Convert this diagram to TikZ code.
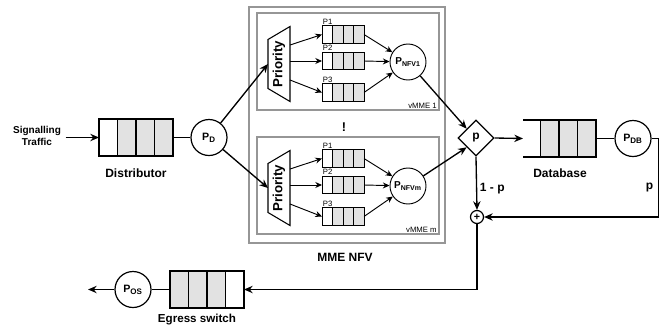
\documentclass[tikz,border=0pt]{standalone}
\usepackage{fontspec}
\setmainfont{Liberation Sans}
\usepackage{tikz}
\usetikzlibrary{shapes.geometric, arrows.meta, positioning, calc}
\definecolor{qgray}{RGB}{226,226,226}
\definecolor{boxgray}{RGB}{150,150,150}
\tikzset{
  %% ---- queues ----
  bigcell/.style   = {rectangle, draw, line width=1pt, fill=#1,
                      minimum width=13.9pt, minimum height=27.75pt,
                      inner sep=0pt, outer sep=0pt},
  bigcell/.default = qgray,
  smallcell/.style = {rectangle, draw, line width=0.7pt, fill=#1,
                      minimum width=7.9pt, minimum height=13.1pt,
                      inner sep=0pt, outer sep=0pt},
  smallcell/.default = qgray,
  %% ---- servers ----
  srv/.style    = {circle, draw, line width=0.9pt, fill=white,
                   minimum size=27pt, inner sep=0pt,
                   font=\fontsize{8}{9}\selectfont\bfseries},
  srvs/.style   = {srv, line width=0.7pt,
                   font=\fontsize{7.5}{9}\selectfont\bfseries},
  prio/.style   = {rectangle, inner sep=0pt, rotate=90,
                   font=\fontsize{10}{12}\selectfont\bfseries},
  prioline/.style = {line width=0.8pt, line join=miter},
  choice/.style = {diamond, draw, line width=0.9pt, fill=white,
                   minimum size=27pt, inner sep=0pt,
                   font=\fontsize{9}{10}\selectfont\bfseries},
  sumc/.style   = {circle, draw, line width=0.9pt, minimum size=9.75pt,
                   inner sep=0pt, font=\fontsize{8}{8}\selectfont\bfseries},
  %% ---- frames ----
  nfvbox/.style = {rectangle, draw=boxgray, line width=1.1pt,
                   minimum width=147pt, minimum height=177pt},
  vmbox/.style  = {rectangle, draw=boxgray, line width=0.9pt,
                   minimum width=136.5pt, minimum height=72.75pt},
  %% ---- arrows ----
  arr/.style    = {-{Stealth[length=6.5pt, width=5.5pt]}, line width=1pt},
  arrs/.style   = {-{Stealth[length=5pt, width=4.5pt]}, line width=0.7pt},
  qline/.style  = {line width=1pt},
}

\begin{document}
\begin{tikzpicture}[
  x=0.75pt, y=-0.75pt,
  lbl/.style  = {font=\fontsize{9}{10.8}\selectfont\bfseries, inner sep=1pt},
  sig/.style  = {font=\fontsize{7.5}{9}\selectfont\bfseries, align=center},
  tiny/.style = {font=\fontsize{5.8}{7}\selectfont, inner sep=0.5pt}
]
\useasboundingbox (0,0) rectangle (665,326);
\node[nfvbox] (nfv) at (347,125) {};
\node[vmbox]  (vma) at (348,61.5) {};
\node[vmbox]  (vmb) at (348,185.5) {};
\node[tiny, anchor=south east] (vmalbl) at ([xshift=-1.5pt, yshift=1pt]vma.south east) {vMME 1};
\node[tiny, anchor=south east] (vmblbl) at ([xshift=-1.5pt, yshift=1pt]vmb.south east) {vMME m};
\node[lbl] (nfvlbl) at (345,257) {MME NFV};
\node[lbl, font=\fontsize{9.5}{10}\selectfont\bfseries] (dots) at (344,127) {!};

\node[sig] (traffic) at (37,136) {Signalling\\Traffic};
\foreach \k/\c in {0/white, 1/qgray, 2/qgray, 3/qgray}
  \node[bigcell=\c] (dist\k) at ({108.25+18.5*\k},137.5) {};
\node[lbl] (distlbl) at (136,173) {Distributor};
\node[srv] (pd) at (209,137.5) {P\textsubscript{D}};
\draw[arr] (traffic.east |- dist0) -- (dist0.west);
\draw[qline] (dist3.east) -- (pd);

\node[prio] (prioa) at (279,64) {Priority};
\node[prio] (priob) at (279,188) {Priority};
\foreach \v in {a,b} {
  \draw[prioline] ($(prio\v)+(-11,-24.5)$) -- ($(prio\v)+(11,-37.5)$)
    -- ($(prio\v)+(11,37.5)$) -- ($(prio\v)+(-11,24.5)$) -- cycle;
  \coordinate (prio\v-in) at ($(prio\v)+(-11,0)$);
  \draw[arr] (pd) -- (prio\v-in);
}

\node[srvs] (pnfva) at (408,62)  {P\textsubscript{NFV1}};
\node[srvs] (pnfvb) at (408,186) {P\textsubscript{NFVm}};

\foreach \v/\dy in {a/0, b/124} {
  \foreach \r/\qy/\sh in {1/34.5/-19, 2/61/-3, 3/92.5/16} {
    \foreach \k/\c in {0/white, 1/qgray, 2/qgray, 3/qgray}
      \node[smallcell=\c] (q\v\r\k) at ({327.25+10.5*\k},{\qy+\dy}) {};
    \node[tiny, anchor=south west] (lp\v\r) at ([yshift=0.5pt]q\v\r0.north west) {P\r};
    \coordinate (prio\v-out\r) at ($(prio\v)+(11,\sh)$);
    \draw[arrs] (prio\v-out\r) -- (q\v\r0.west);
    \draw[arrs] (q\v\r3.east) -- (pnfv\v);
  }
}

\node[choice] (dia) at (476,138) {p};
\draw[arr] (pnfva) -- (dia.north west);
\draw[arr] (pnfvb) -- (dia.south west);

\coordinate (dbin) at (523,138.5);
\foreach \k in {1,2,3}
  \node[bigcell] (db\k) at ({531.25+18.5*\k},138.5) {};
\draw[qline] (dbin |- db1.north) -- (db1.north west);
\draw[qline] (dbin |- db1.south) -- (db1.south west);
\node[lbl] (dblbl) at (560,173) {Database};
\node[srv] (pdb) at (633,138.5) {P\textsubscript{DB}};
\draw[arr] (dia.east) -- (dbin);
\draw[qline] (db3.east) -- (pdb);

\node[sumc] (plus) at (477,217) {+};
\draw[arr] (dia.south) -- node[lbl, right, pos=0.6, inner sep=2pt] {1 - p} (plus.north);
\draw[arr] (pdb.east) -- ++(7,0) |- node[lbl, left, pos=0.31, inner sep=3.5pt] {p} (plus.east);

\foreach \k/\c in {0/qgray, 1/qgray, 2/qgray, 3/white}
  \node[bigcell=\c] (eg\k) at ({179.25+18.5*\k},289.5) {};
\node[lbl, font=\fontsize{8.7}{10}\selectfont\bfseries] (eglbl) at (197,320) {Egress switch};
\node[srv] (pos) at (133,289.5) {P\textsubscript{OS}};
\coordinate (out) at (88,289.5);
\draw[arr] (plus.south) |- (eg3.east);
\draw[qline] (eg0.west) -- (pos);
\draw[arr] (pos) -- (out);
\end{tikzpicture}
\end{document}
